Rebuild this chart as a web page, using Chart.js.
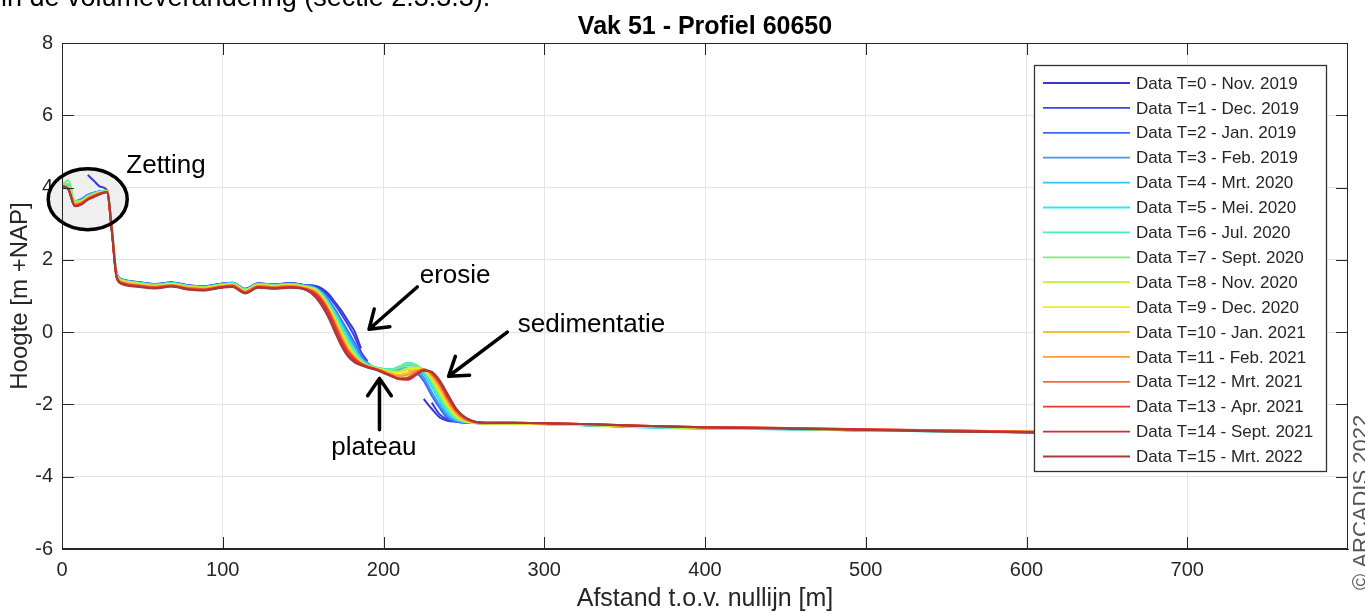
<!DOCTYPE html>
<html>
<head>
<meta charset="utf-8">
<title>Vak 51 - Profiel 60650</title>
<script src="https://cdn.jsdelivr.net/npm/chart.js@4.4.0/dist/chart.umd.min.js"></script>
<style>
  html, body { margin: 0; padding: 0; background: #fff; }
  #wrap { position: relative; width: 1365px; height: 614px; }
</style>
</head>
<body>
<div id="wrap"><canvas id="chart"></canvas></div>
<script>
// afstand tov nullijn [m], gedeeld door alle metingen
const afstand = [0, 4, 8, 12, 16, 20, 24, 28, 31, 34, 38,
  48, 58, 68, 78, 88, 98, 106, 114, 122, 132, 142, 152,
  158, 162, 166, 170, 174, 178, 182, 186, 190,
  195, 200, 205, 210, 215, 220, 225, 230, 235, 240, 245, 250, 255, 260,
  280, 300, 330, 360, 400, 450, 500, 550, 600, 640];

const metingen = ['Data T=0 - Nov. 2019', 'Data T=1 - Dec. 2019', 'Data T=2 - Jan. 2019',
  'Data T=3 - Feb. 2019', 'Data T=4 - Mrt. 2020', 'Data T=5 - Mei. 2020', 'Data T=6 - Jul. 2020',
  'Data T=7 - Sept. 2020', 'Data T=8 - Nov. 2020', 'Data T=9 - Dec. 2020', 'Data T=10 - Jan. 2021',
  'Data T=11 - Feb. 2021', 'Data T=12 - Mrt. 2021', 'Data T=13 - Apr. 2021', 'Data T=14 - Sept. 2021',
  'Data T=15 - Mrt. 2022'];

// hoogte [m +NAP] per meting, null = niet ingemeten
const hoogteT0 = [null, null, null, null, 4.35, 4.18, 4.02, 3.93, 2.88, 1.62, 1.45,
  1.38, 1.33, 1.38, 1.30, 1.27, 1.33, 1.37, 1.20, 1.35, 1.32, 1.36, 1.30,
  1.28, 1.20, 1.05, 0.82, 0.58, 0.30, 0.02, -0.45, null,
  null, null, null, null, null, null, -1.85, -2.12, -2.36, -2.45, -2.48, -2.50, -2.51, -2.52,
  -2.53, -2.54, -2.58, -2.62, -2.66, -2.68, -2.72, -2.74, -2.77, -2.78];
const hoogteT1 = [4.10, 4.02, 3.62, 3.68, 3.80, 3.86, 3.90, 3.92, 2.88, 1.62, 1.44,
  1.37, 1.32, 1.37, 1.29, 1.26, 1.32, 1.36, 1.19, 1.34, 1.31, 1.35, 1.29,
  1.26, 1.16, 0.98, 0.75, 0.48, 0.20, -0.12, -0.55, -0.80,
  null, null, null, null, null, null, null, -1.95, -2.28, -2.42, -2.47, -2.50, -2.51, -2.52,
  -2.53, -2.54, -2.58, -2.62, -2.66, -2.68, -2.72, -2.74, -2.77, -2.78];
const hoogteT2 = [4.09, 4.01, 3.61, 3.67, 3.79, 3.85, 3.90, 3.91, 2.87, 1.61, 1.44,
  1.38, 1.33, 1.37, 1.30, 1.27, 1.33, 1.37, 1.20, 1.35, 1.32, 1.35, 1.29,
  1.22, 1.10, 0.88, 0.62, 0.32, 0.02, -0.30, -0.65, -0.85,
  -1.00, -1.05, -1.08, -1.10, -1.05, -1.10, -1.35, -1.75, -2.10, -2.38, -2.46, -2.49, -2.50, -2.51,
  -2.53, -2.54, -2.58, -2.62, -2.65, -2.68, -2.71, -2.74, -2.76, -2.78];
const hoogteT3 = [4.10, 4.02, 3.62, 3.68, 3.80, 3.86, 3.90, 3.92, 2.88, 1.62, 1.45,
  1.37, 1.32, 1.36, 1.29, 1.26, 1.32, 1.36, 1.19, 1.34, 1.31, 1.34, 1.28,
  1.22, 1.08, 0.85, 0.58, 0.26, -0.05, -0.38, -0.70, -0.88,
  -1.00, -1.05, -1.06, -1.05, -0.98, -1.02, -1.25, -1.65, -2.02, -2.32, -2.45, -2.49, -2.50, -2.51,
  -2.53, -2.54, -2.57, -2.62, -2.65, -2.67, -2.71, -2.73, -2.76, -2.78];
const hoogteT4 = [4.08, 4.00, 3.60, 3.64, 3.76, 3.84, 3.89, 3.91, 2.86, 1.60, 1.43,
  1.36, 1.31, 1.36, 1.28, 1.25, 1.31, 1.35, 1.18, 1.33, 1.30, 1.33, 1.27,
  1.20, 1.05, 0.80, 0.52, 0.20, -0.15, -0.45, -0.72, -0.88,
  -0.98, -1.02, -1.04, -1.00, -0.90, -0.95, -1.15, -1.50, -1.90, -2.25, -2.42, -2.48, -2.50, -2.51,
  -2.53, -2.54, -2.58, -2.63, -2.67, -2.69, -2.72, -2.75, -2.76, -2.78];
const hoogteT5 = [4.08, 4.02, 3.60, 3.64, 3.76, 3.84, 3.89, 3.91, 2.86, 1.60, 1.43,
  1.36, 1.31, 1.35, 1.28, 1.25, 1.31, 1.35, 1.18, 1.33, 1.30, 1.33, 1.27,
  1.20, 1.05, 0.80, 0.50, 0.15, -0.20, -0.50, -0.75, -0.90,
  -0.98, -1.02, -1.02, -0.95, -0.86, -0.92, -1.10, -1.45, -1.85, -2.20, -2.40, -2.47, -2.50, -2.51,
  -2.53, -2.54, -2.58, -2.63, -2.67, -2.69, -2.72, -2.75, -2.76, -2.78];
const hoogteT6 = [4.07, 4.10, 3.60, 3.63, 3.75, 3.83, 3.88, 3.90, 2.85, 1.59, 1.42,
  1.35, 1.30, 1.35, 1.27, 1.24, 1.30, 1.34, 1.17, 1.32, 1.29, 1.32, 1.26,
  1.18, 1.02, 0.76, 0.45, 0.10, -0.25, -0.55, -0.78, -0.90,
  -0.97, -1.02, -1.03, -0.95, -0.85, -0.90, -1.08, -1.40, -1.80, -2.15, -2.38, -2.47, -2.50, -2.51,
  -2.53, -2.54, -2.58, -2.62, -2.66, -2.69, -2.72, -2.75, -2.76, -2.78];
const hoogteT7 = [4.07, 4.20, 3.62, 3.63, 3.75, 3.83, 3.88, 3.90, 2.85, 1.59, 1.42,
  1.35, 1.30, 1.34, 1.27, 1.24, 1.30, 1.34, 1.17, 1.32, 1.29, 1.32, 1.26,
  1.18, 1.00, 0.72, 0.40, 0.05, -0.30, -0.58, -0.80, -0.92,
  -0.98, -1.03, -1.05, -0.98, -0.88, -0.92, -1.05, -1.35, -1.75, -2.10, -2.36, -2.46, -2.50, -2.52,
  -2.53, -2.55, -2.58, -2.62, -2.66, -2.68, -2.72, -2.74, -2.76, -2.78];
const hoogteT8 = [4.07, 3.99, 3.58, 3.62, 3.74, 3.82, 3.88, 3.90, 2.85, 1.58, 1.41,
  1.34, 1.29, 1.33, 1.26, 1.23, 1.29, 1.33, 1.16, 1.31, 1.28, 1.31, 1.25,
  1.15, 0.98, 0.70, 0.36, 0.00, -0.35, -0.62, -0.82, -0.93,
  -0.99, -1.05, -1.10, -1.08, -1.00, -0.98, -1.05, -1.30, -1.70, -2.05, -2.32, -2.45, -2.50, -2.52,
  -2.53, -2.54, -2.57, -2.61, -2.65, -2.67, -2.71, -2.73, -2.76, -2.77];
const hoogteT9 = [4.07, 3.99, 3.57, 3.61, 3.73, 3.81, 3.87, 3.89, 2.84, 1.57, 1.40,
  1.33, 1.28, 1.33, 1.25, 1.22, 1.28, 1.32, 1.15, 1.30, 1.27, 1.30, 1.24,
  1.15, 0.95, 0.66, 0.32, -0.05, -0.40, -0.65, -0.84, -0.94,
  -1.00, -1.06, -1.12, -1.12, -1.05, -1.00, -1.05, -1.25, -1.62, -2.00, -2.30, -2.44, -2.50, -2.52,
  -2.53, -2.54, -2.57, -2.61, -2.65, -2.67, -2.71, -2.73, -2.76, -2.77];
const hoogteT10 = [4.06, 3.98, 3.56, 3.60, 3.72, 3.80, 3.86, 3.89, 2.83, 1.56, 1.39,
  1.32, 1.27, 1.32, 1.24, 1.21, 1.27, 1.31, 1.14, 1.29, 1.26, 1.29, 1.23,
  1.12, 0.92, 0.62, 0.28, -0.10, -0.45, -0.68, -0.85, -0.95,
  -1.00, -1.08, -1.15, -1.18, -1.12, -1.05, -1.05, -1.22, -1.55, -1.95, -2.26, -2.42, -2.49, -2.52,
  -2.52, -2.53, -2.56, -2.60, -2.64, -2.66, -2.70, -2.72, -2.75, -2.77];
const hoogteT11 = [4.06, 3.97, 3.54, 3.58, 3.70, 3.79, 3.85, 3.88, 2.82, 1.55, 1.37,
  1.30, 1.26, 1.30, 1.23, 1.20, 1.26, 1.30, 1.12, 1.28, 1.25, 1.28, 1.21,
  1.10, 0.90, 0.60, 0.24, -0.15, -0.48, -0.70, -0.86, -0.95,
  -1.01, -1.08, -1.18, -1.22, -1.18, -1.08, -1.03, -1.18, -1.50, -1.90, -2.22, -2.40, -2.48, -2.52,
  -2.51, -2.52, -2.55, -2.59, -2.63, -2.65, -2.69, -2.72, -2.75, -2.77];
const hoogteT12 = [4.05, 3.96, 3.52, 3.57, 3.69, 3.78, 3.85, 3.88, 2.81, 1.54, 1.36,
  1.29, 1.25, 1.29, 1.22, 1.19, 1.25, 1.29, 1.11, 1.27, 1.24, 1.27, 1.20,
  1.08, 0.88, 0.58, 0.20, -0.20, -0.52, -0.72, -0.87, -0.96,
  -1.02, -1.10, -1.20, -1.28, -1.25, -1.12, -1.03, -1.15, -1.45, -1.85, -2.18, -2.38, -2.47, -2.51,
  -2.51, -2.52, -2.55, -2.59, -2.63, -2.65, -2.69, -2.72, -2.75, -2.77];
const hoogteT13 = [4.05, 3.95, 3.50, 3.55, 3.68, 3.76, 3.84, 3.88, 2.80, 1.52, 1.34,
  1.27, 1.23, 1.28, 1.20, 1.17, 1.24, 1.27, 1.09, 1.25, 1.22, 1.25, 1.18,
  1.05, 0.85, 0.55, 0.15, -0.25, -0.55, -0.75, -0.87, -0.95,
  -1.02, -1.10, -1.20, -1.30, -1.32, -1.20, -1.05, -1.12, -1.40, -1.80, -2.15, -2.35, -2.46, -2.50,
  -2.51, -2.52, -2.55, -2.59, -2.63, -2.65, -2.69, -2.72, -2.76, -2.77];
const hoogteT14 = [4.04, 3.95, 3.49, 3.54, 3.67, 3.75, 3.83, 3.87, 2.80, 1.51, 1.33,
  1.26, 1.22, 1.27, 1.19, 1.16, 1.23, 1.26, 1.08, 1.24, 1.21, 1.24, 1.17,
  1.00, 0.78, 0.45, 0.05, -0.33, -0.62, -0.80, -0.90, -0.97,
  -1.03, -1.12, -1.22, -1.30, -1.30, -1.18, -1.06, -1.10, -1.36, -1.76, -2.12, -2.34, -2.45, -2.50,
  -2.51, -2.52, -2.55, -2.59, -2.63, -2.66, -2.70, -2.74, -2.77, -2.78];
const hoogteT15 = [4.04, 3.94, 3.48, 3.53, 3.66, 3.74, 3.82, 3.87, 2.79, 1.50, 1.32,
  1.25, 1.21, 1.26, 1.18, 1.15, 1.22, 1.25, 1.07, 1.23, 1.20, 1.23, 1.16,
  0.95, 0.70, 0.38, -0.02, -0.40, -0.68, -0.84, -0.92, -0.98,
  -1.04, -1.13, -1.22, -1.28, -1.28, -1.17, -1.07, -1.10, -1.34, -1.72, -2.10, -2.33, -2.45, -2.50,
  -2.51, -2.52, -2.55, -2.60, -2.64, -2.67, -2.71, -2.75, -2.78, -2.79];

const reeksen = [hoogteT0, hoogteT1, hoogteT2, hoogteT3, hoogteT4, hoogteT5, hoogteT6, hoogteT7,
  hoogteT8, hoogteT9, hoogteT10, hoogteT11, hoogteT12, hoogteT13, hoogteT14, hoogteT15];

// jet-achtige kleuren, van blauw (oud) naar donkerrood (nieuw)
const kleuren = ['#3838d0', '#3c40ee', '#3c68f4', '#3c9cf4', '#30c6f8', '#26eef6', '#46eebc', '#7eee7e',
  '#bcee46', '#f4ec14', '#f6c034', '#f69c36', '#f66a32', '#ec3434', '#d22e2e', '#a83a3a'];

const xTicks = [0, 100, 200, 300, 400, 500, 600, 700];
const yTicks = [-6, -4, -2, 0, 2, 4, 6, 8];

const FONT = "'Liberation Sans', Arial, Helvetica, sans-serif";
const TEKST = '#262626';

function pijl(ctx, x1, y1, x2, y2) {
  const hoek = Math.atan2(y2 - y1, x2 - x1);
  const kop = 21, open = 0.6;
  ctx.beginPath();
  ctx.moveTo(x1, y1);
  ctx.lineTo(x2, y2);
  ctx.moveTo(x2 - kop * Math.cos(hoek - open), y2 - kop * Math.sin(hoek - open));
  ctx.lineTo(x2, y2);
  ctx.lineTo(x2 - kop * Math.cos(hoek + open), y2 - kop * Math.sin(hoek + open));
  ctx.stroke();
}

const profielPlugin = {
  id: 'profiel',
  beforeDatasetsDraw(chart) {
    // grijze achtergrond van de zetting-ellips
    const ctx = chart.ctx, x = chart.scales.x, y = chart.scales.y;
    ctx.save();
    ctx.fillStyle = '#efefef';
    ctx.beginPath();
    ctx.ellipse(x.getPixelForValue(16), y.getPixelForValue(3.68), 39.5, 30.5, 0, 0, Math.PI * 2);
    ctx.fill();
    ctx.restore();
  },
  afterDatasetsDraw(chart) {
    const ctx = chart.ctx, a = chart.chartArea, x = chart.scales.x, y = chart.scales.y;
    ctx.save();
    // kader rondom met ticks naar binnen
    ctx.strokeStyle = TEKST;
    ctx.lineWidth = 1;
    ctx.strokeRect(a.left + 0.5, a.top + 0.5, a.right - a.left - 1, a.bottom - a.top - 1);
    ctx.beginPath();
    xTicks.forEach(v => {
      const px = Math.round(x.getPixelForValue(v)) + 0.5;
      ctx.moveTo(px, a.bottom); ctx.lineTo(px, a.bottom - 12);
      ctx.moveTo(px, a.top); ctx.lineTo(px, a.top + 12);
    });
    yTicks.forEach(v => {
      const py = Math.round(y.getPixelForValue(v)) + 0.5;
      ctx.moveTo(a.left, py); ctx.lineTo(a.left + 12, py);
      ctx.moveTo(a.right, py); ctx.lineTo(a.right - 12, py);
    });
    ctx.stroke();

    // ellips, pijlen en toelichting
    ctx.strokeStyle = '#000';
    ctx.lineWidth = 3.5;
    ctx.beginPath();
    ctx.ellipse(x.getPixelForValue(16), y.getPixelForValue(3.68), 39.5, 30.5, 0, 0, Math.PI * 2);
    ctx.stroke();

    ctx.lineWidth = 3.5;
    ctx.lineCap = 'round';
    ctx.lineJoin = 'round';
    pijl(ctx, x.getPixelForValue(221), y.getPixelForValue(1.25), x.getPixelForValue(191), y.getPixelForValue(0.08));
    pijl(ctx, x.getPixelForValue(277), y.getPixelForValue(0.0), x.getPixelForValue(240.5), y.getPixelForValue(-1.22));
    pijl(ctx, x.getPixelForValue(197.5), y.getPixelForValue(-2.7), x.getPixelForValue(197.5), y.getPixelForValue(-1.28));

    ctx.fillStyle = '#000';
    ctx.font = '26px ' + FONT;
    ctx.textAlign = 'left';
    ctx.textBaseline = 'alphabetic';
    ctx.fillText('Zetting', x.getPixelForValue(40), y.getPixelForValue(4.4));
    ctx.fillText('erosie', x.getPixelForValue(222.5), y.getPixelForValue(1.36));
    ctx.fillText('sedimentatie', x.getPixelForValue(283.5), y.getPixelForValue(0.01));
    ctx.fillText('plateau', x.getPixelForValue(167.5), y.getPixelForValue(-3.4));
    ctx.restore();
  },
  afterDraw(chart) {
    const ctx = chart.ctx, a = chart.chartArea;
    const sets = chart.data.datasets;
    ctx.save();

    // legenda rechtsboven in het assenstelsel
    const lx = a.right - 314, ly = a.top + 22, lw = 292, lh = 406;
    ctx.fillStyle = '#fff';
    ctx.fillRect(lx, ly, lw, lh);
    ctx.strokeStyle = '#333';
    ctx.lineWidth = 1.3;
    ctx.strokeRect(lx + 0.5, ly + 0.5, lw, lh);
    ctx.font = '17px ' + FONT;
    ctx.textBaseline = 'middle';
    ctx.textAlign = 'left';
    sets.forEach((ds, i) => {
      const ry = ly + 18 + i * 24.9;
      ctx.strokeStyle = ds.borderColor;
      ctx.lineWidth = 1.8;
      ctx.beginPath();
      ctx.moveTo(lx + 9, ry);
      ctx.lineTo(lx + 96, ry);
      ctx.stroke();
      ctx.fillStyle = TEKST;
      ctx.fillText(ds.label, lx + 102, ry + 1);
    });

    // titel boven het assenstelsel
    ctx.fillStyle = '#000';
    ctx.font = 'bold 25px ' + FONT;
    ctx.textAlign = 'center';
    ctx.fillText('Vak 51 - Profiel 60650', (a.left + a.right) / 2, 27);

    // doorlopende tekst van de pagina erboven
    ctx.font = '27px ' + FONT;
    ctx.textAlign = 'left';
    ctx.textBaseline = 'alphabetic';
    ctx.fillText('in de volumeverandering (sectie 2.3.3.3).', 1, 6);

    // copyright langs de rechterrand
    ctx.translate(1368, 590);
    ctx.rotate(-Math.PI / 2);
    ctx.fillStyle = '#555';
    ctx.font = '22px ' + FONT;
    ctx.fillText('\u00A9 ARCADIS 2022', 0, 0);
    ctx.restore();
  }
};

const ctx = document.getElementById('chart').getContext('2d');
const chart = new Chart(ctx, {
  type: 'line',
  data: {
    datasets: reeksen.map((ys, i) => ({
      label: metingen[i],
      data: afstand.map((x, j) => ({ x: x, y: ys[j] })),
      borderColor: kleuren[i],
      backgroundColor: kleuren[i],
      borderWidth: 2,
      pointRadius: 0,
      cubicInterpolationMode: 'monotone',
      spanGaps: false,
      order: 16 - i
    }))
  },
  options: {
    responsive: true,
    maintainAspectRatio: false,
    devicePixelRatio: 1,
    animation: false,
    layout: { padding: { top: 43, right: 17, left: 0, bottom: 0 } },
    plugins: {
      legend: { display: false },
      tooltip: { enabled: false }
    },
    scales: {
      x: {
        type: 'linear',
        min: 0,
        max: 800,
        afterBuildTicks: scale => { scale.ticks = xTicks.map(v => ({ value: v })); },
        afterFit: scale => { scale.height = 65; },
        grid: { color: '#e4e4e4', drawTicks: false },
        border: { display: true, color: TEKST },
        ticks: { padding: 9, color: TEKST, font: { family: FONT, size: 20 }, maxRotation: 0 },
        title: { display: true, text: 'Afstand t.o.v. nullijn [m]', color: TEKST,
          font: { family: FONT, size: 25 }, padding: { top: 0, bottom: 0 } }
      },
      y: {
        min: -6,
        max: 8,
        afterBuildTicks: scale => { scale.ticks = yTicks.map(v => ({ value: v })); },
        afterFit: scale => { scale.width = 62; },
        grid: { color: '#e4e4e4', drawTicks: false },
        border: { display: true, color: TEKST },
        ticks: { padding: 9, color: TEKST, font: { family: FONT, size: 20 } },
        title: { display: true, text: 'Hoogte [m +NAP]', color: TEKST,
          font: { family: FONT, size: 24 }, padding: { top: 6, bottom: 0 } }
      }
    }
  },
  plugins: [profielPlugin]
});
</script>
</body>
</html>
